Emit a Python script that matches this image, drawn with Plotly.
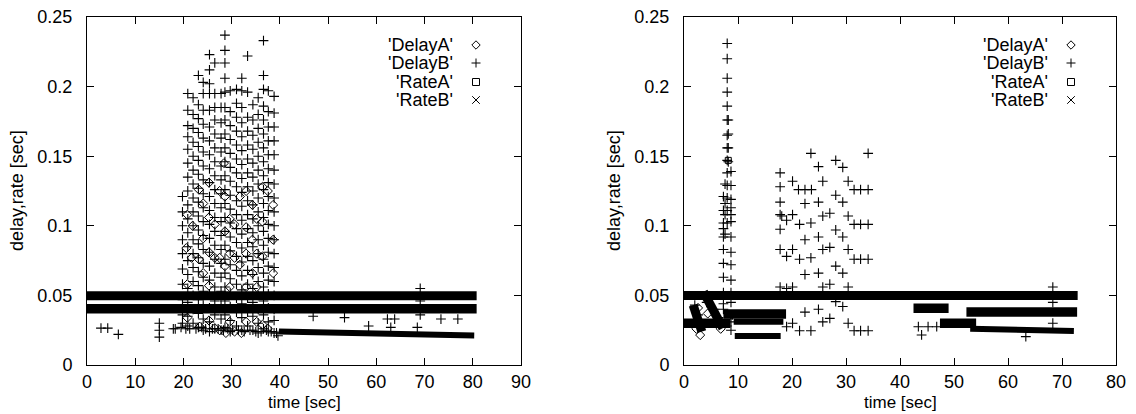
import plotly.graph_objects as go

W, H = 1136, 414

# ---------------- axes / labels ----------------
x_ticks_left = [0, 10, 20, 30, 40, 50, 60, 70, 80, 90]
x_ticks_right = [0, 10, 20, 30, 40, 50, 60, 70, 80]
y_tick_vals = [0, 0.05, 0.1, 0.15, 0.2, 0.25]
y_tick_text = ["0", "0.05", "0.1", "0.15", "0.2", "0.25"]
series_names = ["'DelayA'", "'DelayB'", "'RateA'", "'RateB'"]
x_title = "time [sec]"
y_title = "delay,rate [sec]"

# ---------------- LEFT panel data ----------------
# DelayB: columns of samples (time, list of delays)
left_delayB_cols = [
    (19.8, [0.121, 0.110, 0.100, 0.090, 0.080, 0.069, 0.058, 0.047, 0.036, 0.030]),
    (20.9, [0.195, 0.183, 0.172, 0.164, 0.155, 0.145, 0.135, 0.125, 0.115, 0.105, 0.095, 0.085, 0.075, 0.065, 0.055, 0.045, 0.035, 0.028]),
    (22.0, [0.192, 0.180, 0.170, 0.160, 0.150, 0.140, 0.130, 0.120, 0.110, 0.100, 0.090, 0.080, 0.070, 0.060, 0.050, 0.040, 0.030]),
    (23.1, [0.208, 0.187, 0.177, 0.167, 0.157, 0.147, 0.137, 0.127, 0.117, 0.107, 0.097, 0.087, 0.077, 0.067, 0.057, 0.047, 0.037, 0.027]),
    (24.1, [0.203, 0.195, 0.183, 0.173, 0.163, 0.153, 0.143, 0.133, 0.123, 0.113, 0.103, 0.093, 0.083, 0.073, 0.063, 0.053, 0.043, 0.033, 0.025]),
    (25.4, [0.223, 0.212, 0.202, 0.195, 0.183, 0.171, 0.161, 0.151, 0.141, 0.131, 0.121, 0.111, 0.101, 0.091, 0.081, 0.071, 0.061, 0.051, 0.041, 0.031, 0.024]),
    (26.5, [0.217, 0.195, 0.185, 0.176, 0.166, 0.156, 0.146, 0.136, 0.126, 0.116, 0.106, 0.096, 0.086, 0.076, 0.066, 0.056, 0.046, 0.036, 0.026]),
    (27.8, [0.195, 0.185, 0.174, 0.163, 0.153, 0.143, 0.133, 0.123, 0.113, 0.103, 0.093, 0.083, 0.073, 0.063, 0.053, 0.043, 0.033, 0.025]),
    (28.6, [0.237, 0.226, 0.217, 0.206, 0.196, 0.185, 0.176, 0.166, 0.156, 0.146, 0.136, 0.126, 0.116, 0.106, 0.096, 0.086, 0.076, 0.066, 0.056, 0.046, 0.036, 0.027]),
    (29.7, [0.197, 0.182, 0.172, 0.162, 0.152, 0.142, 0.132, 0.122, 0.112, 0.102, 0.092, 0.082, 0.072, 0.062, 0.052, 0.042, 0.032, 0.024]),
    (31.0, [0.198, 0.188, 0.178, 0.168, 0.158, 0.148, 0.138, 0.128, 0.118, 0.108, 0.098, 0.088, 0.078, 0.068, 0.058, 0.048, 0.038, 0.028]),
    (32.1, [0.206, 0.197, 0.185, 0.174, 0.164, 0.154, 0.144, 0.134, 0.124, 0.114, 0.104, 0.094, 0.084, 0.074, 0.064, 0.054, 0.044, 0.034, 0.025]),
    (33.3, [0.222, 0.196, 0.178, 0.168, 0.158, 0.148, 0.138, 0.128, 0.118, 0.108, 0.098, 0.088, 0.078, 0.068, 0.058, 0.048, 0.038, 0.028]),
    (34.4, [0.187, 0.176, 0.165, 0.155, 0.145, 0.135, 0.125, 0.115, 0.105, 0.095, 0.085, 0.075, 0.065, 0.055, 0.045, 0.035, 0.025]),
    (35.5, [0.192, 0.180, 0.170, 0.160, 0.150, 0.140, 0.130, 0.120, 0.110, 0.100, 0.090, 0.080, 0.070, 0.060, 0.050, 0.040, 0.030, 0.023]),
    (36.6, [0.233, 0.208, 0.198, 0.186, 0.176, 0.166, 0.156, 0.146, 0.136, 0.126, 0.116, 0.106, 0.096, 0.086, 0.076, 0.066, 0.056, 0.046, 0.036, 0.026]),
    (37.6, [0.197, 0.182, 0.171, 0.161, 0.151, 0.141, 0.131, 0.121, 0.111, 0.101, 0.091, 0.081, 0.071, 0.061, 0.051, 0.041, 0.031, 0.024]),
    (38.8, [0.193, 0.181, 0.171, 0.161, 0.151, 0.140, 0.130, 0.120, 0.110, 0.100, 0.090, 0.080, 0.070, 0.060, 0.050, 0.040, 0.032, 0.023]),
]
left_delayB_points = [
    (2.9, 0.0265), (4.3, 0.0265), (6.5, 0.022), (15.0, 0.030), (15.0, 0.025), (15.0, 0.020),
    (17.9, 0.026), (18.3, 0.026), (19.5, 0.027), (20.5, 0.026), (21.3, 0.026), (22.6, 0.026),
    (23.8, 0.027), (24.6, 0.026), (26.0, 0.026), (27.2, 0.026), (28.3, 0.025), (29.2, 0.026),
    (30.2, 0.025), (31.4, 0.025), (32.6, 0.024), (33.8, 0.025), (35.0, 0.024), (36.1, 0.024),
    (37.2, 0.025), (38.2, 0.024), (39.3, 0.023), (39.6, 0.021),
    (46.9, 0.035), (53.4, 0.034), (58.4, 0.028), (62.3, 0.033), (63.8, 0.033), (63.0, 0.027),
    (69.1, 0.055), (69.1, 0.046), (69.1, 0.036), (68.5, 0.027), (73.4, 0.033), (76.9, 0.033),
]
# DelayB dense runs (t_start, t_end, v_start, v_end)
left_delayB_runs = [(39.8, 80.3, 0.0240, 0.0212)]

left_delayA_points = [
    (20.8, 0.108), (20.6, 0.084), (20.8, 0.058), (20.8, 0.034), (21.7, 0.077), (21.9, 0.100),
    (23.2, 0.126), (23.2, 0.076), (24.1, 0.116), (24.1, 0.091), (24.1, 0.066),
    (25.3, 0.131), (25.3, 0.106), (25.3, 0.081), (25.3, 0.057), (25.3, 0.032),
    (26.5, 0.101), (26.5, 0.077), (27.5, 0.125), (27.5, 0.077), (28.4, 0.145),
    (28.6, 0.121), (28.6, 0.096), (28.6, 0.071), (28.8, 0.023),
    (29.6, 0.105), (29.6, 0.080), (29.6, 0.056), (29.6, 0.031), (30.6, 0.101), (30.6, 0.077),
    (31.7, 0.121), (31.7, 0.072), (32.0, 0.023),
    (33.0, 0.125), (33.0, 0.099), (33.0, 0.080), (33.0, 0.056), (33.0, 0.031),
    (34.3, 0.115), (34.3, 0.090), (34.3, 0.066),
    (35.2, 0.105), (35.2, 0.080), (35.2, 0.056), (35.2, 0.031),
    (36.4, 0.128), (36.4, 0.103), (36.4, 0.078), (36.4, 0.029),
    (37.5, 0.125), (37.5, 0.026), (38.6, 0.115), (38.6, 0.090), (38.6, 0.066),
    (23.4, 0.0275), (26.5, 0.0265), (27.5, 0.025), (30.6, 0.024),
]
left_rateA_runs = [(-0.6, 80.8, 0.0404, 0.0404)]
left_rateB_runs = [(-0.6, 80.8, 0.0497, 0.0497)]

# ---------------- RIGHT panel data ----------------
right_delayB_cols = [
    (8.0, [0.231, 0.220, 0.206, 0.196, 0.186, 0.176, 0.165, 0.156, 0.147, 0.138, 0.129, 0.120, 0.111, 0.102]),
    (8.2, [0.176, 0.166, 0.156, 0.146]),
    (7.3, [0.121, 0.111, 0.102, 0.098, 0.092, 0.083, 0.073, 0.063, 0.052, 0.044, 0.040]),
    (7.6, [0.130, 0.116, 0.108, 0.094]),
    (8.7, [0.139, 0.129, 0.119, 0.113, 0.108, 0.103, 0.092, 0.081, 0.072, 0.061, 0.052, 0.045, 0.036, 0.031, 0.025]),
]
right_delayB_points = [
    (23.5, 0.152), (34.1, 0.152), (24.9, 0.1425), (28.1, 0.147), (29.4, 0.142),
    (17.8, 0.138), (20.1, 0.132), (21.2, 0.126), (22.4, 0.126), (23.6, 0.126), (25.7, 0.132),
    (30.4, 0.132), (31.5, 0.126), (32.7, 0.126), (34.1, 0.126),
    (17.8, 0.128), (22.4, 0.116), (24.9, 0.117), (28.1, 0.122), (29.4, 0.117), (17.8, 0.117),
    (17.8, 0.108), (18.1, 0.107), (19.0, 0.104), (20.1, 0.108), (21.4, 0.101), (23.5, 0.102),
    (25.7, 0.107), (27.0, 0.109), (30.4, 0.107), (31.5, 0.101), (32.7, 0.101), (34.1, 0.101),
    (17.8, 0.0975), (22.4, 0.090), (24.9, 0.092), (28.1, 0.097), (29.4, 0.092),
    (17.8, 0.083), (19.0, 0.078), (20.1, 0.083), (21.4, 0.076), (23.5, 0.077), (25.7, 0.083),
    (27.0, 0.0845), (30.4, 0.083), (31.5, 0.076), (32.7, 0.076), (34.1, 0.076),
    (22.4, 0.065), (24.9, 0.066), (28.1, 0.071), (29.4, 0.066),
    (17.8, 0.056), (19.0, 0.055), (20.1, 0.056), (25.7, 0.056), (27.0, 0.058), (30.4, 0.056),
    (28.1, 0.0455), (29.4, 0.042), (22.4, 0.038), (24.9, 0.040),
    (19.0, 0.0275), (20.1, 0.030), (21.4, 0.0246), (23.5, 0.0246), (25.7, 0.031), (27.0, 0.0335),
    (30.4, 0.030), (31.5, 0.0246), (32.7, 0.0246), (34.1, 0.0246),
    (2.0, 0.043), (2.6, 0.036), (4.2, 0.045), (5.6, 0.040), (6.4, 0.034), (9.0, 0.036),
    (43.4, 0.0275), (44.0, 0.0216), (45.2, 0.0275), (46.8, 0.0275), (63.3, 0.0204),
    (68.3, 0.056), (68.3, 0.045), (68.3, 0.030),
]
right_delayB_runs = [(9.2, 18.4, 0.031, 0.031), (9.4, 17.9, 0.0208, 0.0208), (53.0, 72.2, 0.026, 0.0245)]
right_delayA_points = [(3.0, 0.0215), (2.6, 0.041), (2.3, 0.026), (4.4, 0.037), (6.8, 0.026)]
right_rateA_points = [(8.2, 0.147)]
right_rateA_runs = [(-0.6, 8.6, 0.030, 0.030), (7.3, 18.9, 0.0366, 0.0366), (42.5, 49.0, 0.0407, 0.0407),
                    (47.4, 54.1, 0.030, 0.030), (52.3, 72.8, 0.038, 0.038)]
right_rateB_runs = [(-0.6, 72.9, 0.0500, 0.0500), (3.6, 7.2, 0.0525, 0.0265), (1.7, 3.3, 0.043, 0.024)]

# ---------------- helpers ----------------
FONT = "Liberation Sans, Arial, Helvetica, sans-serif"
BLACK = "#000000"


def cols_to_xy(cols):
    xs, ys = [], []
    for t, vals in cols:
        for v in vals:
            xs.append(t)
            ys.append(v)
    return xs, ys


def pts_to_xy(pts):
    return [p[0] for p in pts], [p[1] for p in pts]


def runs_to_xy(runs):
    xs, ys = [], []
    for t0, t1, v0, v1 in runs:
        xs += [t0, t1, None]
        ys += [v0, v1, None]
    return xs, ys


def px(x):
    return x / W


def py(y):
    return 1 - y / H


fig = go.Figure()


def add_panel(xa, ya, dA, dB_cols, dB_pts, dB_runs, rA_pts, rA_runs, rB_runs):
    # DelayA (diamonds)
    x, y = pts_to_xy(dA)
    fig.add_trace(go.Scatter(x=x, y=y, mode="markers", xaxis=xa, yaxis=ya, showlegend=False,
                             marker=dict(symbol="diamond-open", size=7, color=BLACK, line=dict(width=1, color=BLACK))))
    # DelayB (+)
    x1, y1 = cols_to_xy(dB_cols)
    x2, y2 = pts_to_xy(dB_pts)
    fig.add_trace(go.Scatter(x=x1 + x2, y=y1 + y2, mode="markers", xaxis=xa, yaxis=ya, showlegend=False,
                             marker=dict(symbol="cross-thin-open", size=7, color=BLACK, line=dict(width=1.1, color=BLACK))))
    x, y = runs_to_xy(dB_runs)
    fig.add_trace(go.Scatter(x=x, y=y, mode="lines", xaxis=xa, yaxis=ya, showlegend=False,
                             line=dict(color=BLACK, width=6)))
    # RateA (squares)
    if rA_pts:
        x, y = pts_to_xy(rA_pts)
        fig.add_trace(go.Scatter(x=x, y=y, mode="markers", xaxis=xa, yaxis=ya, showlegend=False,
                                 marker=dict(symbol="square-open", size=6, color=BLACK, line=dict(width=1, color=BLACK))))
    x, y = runs_to_xy(rA_runs)
    fig.add_trace(go.Scatter(x=x, y=y, mode="lines", xaxis=xa, yaxis=ya, showlegend=False,
                             line=dict(color=BLACK, width=9.5)))
    # RateB (x)
    x, y = runs_to_xy(rB_runs)
    fig.add_trace(go.Scatter(x=x, y=y, mode="lines", xaxis=xa, yaxis=ya, showlegend=False,
                             line=dict(color=BLACK, width=9)))


add_panel("x", "y", left_delayA_points, left_delayB_cols, left_delayB_points, left_delayB_runs,
          [], left_rateA_runs, left_rateB_runs)
add_panel("x2", "y2", right_delayA_points, right_delayB_cols, right_delayB_points, right_delayB_runs,
          right_rateA_points, right_rateA_runs, right_rateB_runs)

# plot-area pixel geometry
L_X0, L_X1 = 87, 521
R_X0, R_X1 = 684, 1116
Y_TOP, Y_BOT = 17, 365

axis_common = dict(showline=True, linecolor=BLACK, linewidth=1, mirror="allticks", ticks="inside",
                   ticklen=7, tickwidth=1, tickcolor=BLACK, showgrid=False, zeroline=False,
                   automargin=False, tickfont=dict(family=FONT, size=18, color=BLACK))

fig.update_layout(
    width=W, height=H, autosize=False,
    margin=dict(l=0, r=0, t=0, b=0, pad=0),
    paper_bgcolor="white", plot_bgcolor="white",
    showlegend=False,
    xaxis=dict(domain=[px(L_X0), px(L_X1)], range=[0, 90], tickvals=x_ticks_left,
               ticktext=[str(v) for v in x_ticks_left], anchor="y", ticklabelstandoff=0, **axis_common),
    yaxis=dict(domain=[py(Y_BOT), py(Y_TOP)], range=[0, 0.25], tickvals=y_tick_vals,
               ticktext=y_tick_text, anchor="x", ticklabelstandoff=10, **axis_common),
    xaxis2=dict(domain=[px(R_X0), px(R_X1)], range=[0, 80], tickvals=x_ticks_right,
                ticktext=[str(v) for v in x_ticks_right], anchor="y2", ticklabelstandoff=0, **axis_common),
    yaxis2=dict(domain=[py(Y_BOT), py(Y_TOP)], range=[0, 0.25], tickvals=y_tick_vals,
                ticktext=y_tick_text, anchor="x2", ticklabelstandoff=10, **axis_common),
)

annotations = []
shapes = []
for x0, x1 in [(L_X0, L_X1), (R_X0, R_X1)]:
    cx = (x0 + x1) / 2
    annotations.append(dict(x=px(cx), y=py(402), xref="paper", yref="paper", text=x_title, showarrow=False,
                            xanchor="center", yanchor="middle", font=dict(family=FONT, size=17, color=BLACK)))
    annotations.append(dict(x=px(x0 - 70), y=py((Y_TOP + Y_BOT) / 2), xref="paper", yref="paper", text=y_title,
                            showarrow=False, textangle=-90, xanchor="center", yanchor="middle",
                            font=dict(family=FONT, size=18, color=BLACK)))
    # legend: text right-aligned, key on the right
    text_end = x1 - 66
    key_x = x1 - 45
    rows = [45, 63, 82, 100]
    for name, ry in zip(series_names, rows):
        annotations.append(dict(x=px(text_end), y=py(ry), xref="paper", yref="paper", text=name, showarrow=False,
                                xanchor="right", yanchor="middle", font=dict(family=FONT, size=18, color=BLACK)))
    line = dict(color=BLACK, width=1)
    # diamond
    r = 4.2
    yy = rows[0]
    shapes.append(dict(type="path", xref="paper", yref="paper", line=line,
                       path=f"M {px(key_x - r)} {py(yy)} L {px(key_x)} {py(yy - r)} L {px(key_x + r)} {py(yy)} L {px(key_x)} {py(yy + r)} Z"))
    # plus
    r = 4.5
    yy = rows[1]
    shapes.append(dict(type="line", xref="paper", yref="paper", line=line,
                       x0=px(key_x - r), x1=px(key_x + r), y0=py(yy), y1=py(yy)))
    shapes.append(dict(type="line", xref="paper", yref="paper", line=line,
                       x0=px(key_x), x1=px(key_x), y0=py(yy - r), y1=py(yy + r)))
    # square
    r = 3.5
    yy = rows[2]
    shapes.append(dict(type="rect", xref="paper", yref="paper", line=line,
                       x0=px(key_x - r), x1=px(key_x + r), y0=py(yy - r), y1=py(yy + r)))
    # x
    r = 3.8
    yy = rows[3]
    shapes.append(dict(type="line", xref="paper", yref="paper", line=line,
                       x0=px(key_x - r), x1=px(key_x + r), y0=py(yy - r), y1=py(yy + r)))
    shapes.append(dict(type="line", xref="paper", yref="paper", line=line,
                       x0=px(key_x - r), x1=px(key_x + r), y0=py(yy + r), y1=py(yy - r)))

fig.update_layout(annotations=annotations, shapes=shapes)
fig.write_html("out.html", config={"responsive": False, "displayModeBar": False},
               post_script="document.body.style.margin='0';document.body.style.overflow='hidden';")
